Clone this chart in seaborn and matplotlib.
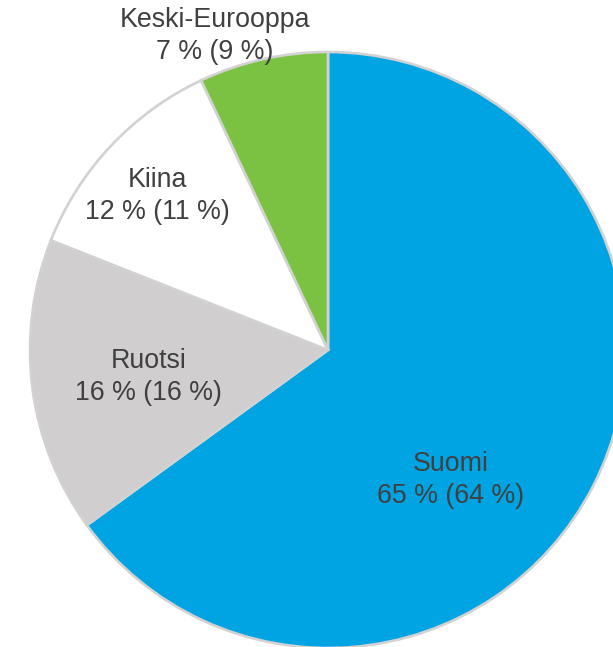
import numpy as np
import matplotlib
matplotlib.use("Agg")
import matplotlib.pyplot as plt
import seaborn as sns

# data
regions = ["Suomi", "Ruotsi", "Kiina", "Keski-Eurooppa"]
share_now = [65, 16, 12, 7]
share_prev = [64, 16, 11, 9]
colors = ["#00A4E3", "#D0CECF", "#FFFFFF", "#7CC242"]

# label placement (fraction of radius, angle in degrees)
label_r = [0.60, 0.61, 0.77, 1.12]
label_ang = [-46.8, 188.5, 138.0, 109.8]

sns.set_theme(style="white")
plt.rcParams["font.family"] = ["Liberation Sans", "DejaVu Sans"]

fig = plt.figure(figsize=(6.13, 6.47), dpi=100)
ax = fig.add_axes([0, 0, 1, 1])

cx, cy, R = 328, 297, 298
ax.pie(share_now, colors=colors, startangle=90, counterclock=False,
       radius=R, center=(cx, cy),
       wedgeprops=dict(edgecolor="#D2D2D2", linewidth=1.9))

for name, a, b, r, ang in zip(regions, share_now, share_prev, label_r, label_ang):
    t = np.deg2rad(ang)
    ax.text(cx + r * R * np.cos(t), cy + r * R * np.sin(t),
            f"{name}\n{a} % ({b} %)", ha="center", va="center",
            fontsize=19.3, color="#404040", linespacing=1.3)

ax.set_xlim(0, 613)
ax.set_ylim(0, 647)
ax.set_aspect("auto")
ax.axis("off")

fig.savefig("out.png", dpi=100, facecolor="white")
